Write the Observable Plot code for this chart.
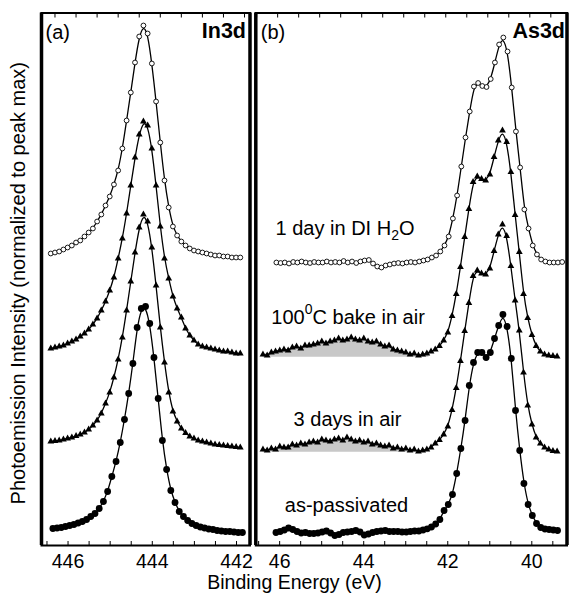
<!DOCTYPE html>
<html><head><meta charset="utf-8">
<script src="https://cdn.jsdelivr.net/npm/d3@7"></script>
<script src="https://cdn.jsdelivr.net/npm/@observablehq/plot@0.6"></script>
<style>
body{margin:0;background:#fff;}
#fig{position:relative;width:570px;height:593px;overflow:hidden;font-family:"Liberation Sans",Arial,Helvetica,sans-serif;background:#fff;}
#fig svg{position:absolute;top:0;}
#xlabel{position:absolute;left:0;width:589px;text-align:center;top:573px;height:19px;font-size:19.5px;line-height:19px;color:#000;}
</style></head><body>
<div id="fig"><div id="xlabel">Binding Energy (eV)</div></div>
<script>
// ---------- data (binding energy grids, 0.1 eV steps) ----------
const grid = (start, n) => d3.range(n).map(i => Math.round((start - 0.1 * i) * 100) / 100);

const inE_h2o = grid(446.6, 46), inE_bake = grid(446.6, 46), inE_air = grid(446.6, 46), inE_pass = grid(446.55, 46);
const asE_h2o = grid(46.03, 69), asE_bake = grid(46.35, 71), asE_air = grid(46.35, 71), asE_pass = grid(46.04, 68);

// In3d intensities (arb. units)
const in_h2o = [4.5,5,5.5,6.5,7.5,8.5,10,11,13,15,17,20.5,24,28.5,33,39,46,57,71,85,100,113,118.5,114.5,99.5,80.5,60,41,27.5,18,13.5,10.5,8.5,7,6,5.5,5,4.5,4,3.5,3.5,3,3,2.5,2.5,2.5];
const in_bake = [5,5.5,6,6.5,7.5,8.5,9.5,11,12.5,14.5,17,20,24,28.5,34,40.5,50,60,72.5,86.5,100.5,112,118.5,116.5,105,86.5,66,50,40,31,25,20.5,15,11.5,9,7,6,5.5,5,4.5,4,3.5,3.5,3,2.5,2.5];
const in_air = [5.5,5.75,6,6.5,7,7.5,8.25,9,10,11.5,13.5,16,19.5,24.5,30,37.5,46.5,57.5,71,85.5,100,112.5,119,115.5,102.5,83.5,62.5,45,30,20.5,15.5,12,9.75,8,7,6,5.5,5,4.5,4,3.75,3.5,3.25,3,2.75,2.5];
const in_pass = [4.5,4.75,5,5.5,6,6.5,7.25,8,9,10.5,12,14.5,18,23,30.5,38,47.5,59,72,87,105,114.5,115.5,107,90,69.5,48.5,34,23.5,17.5,13,10.5,8.5,7,6,5.25,4.75,4.25,4,3.5,3.25,3,3,2.75,2.5,2.5];

// As3d intensities (arb. units)
const as_h2o = [4,3.75,4,3.5,4.25,4,4.5,4,3.75,4.25,4,4,4.5,4,4.25,4,4.75,4,4.5,3.75,4.5,5,5.25,3.5,2,1.5,2.5,3,3.5,3.75,3.5,4,4.25,4,4.5,5,
  5.5,6.5,7.5,9.5,12.5,17,26,37.5,52,66.5,79.5,92,93.75,92.25,91.75,95.75,104,113,116.5,109.5,91.5,69.5,51.5,30.5,21,12.5,8,5.5,4.5,4,4,4,4.25];
const as_bake = [4,3.5,5,5.5,6,6.5,6,7.5,8,7,8.5,8.5,9,9.5,10.5,9.5,10.5,11,12,11,11.5,12.5,11.5,11,12,10.5,10,10.5,9,8,8.5,6.5,6,5.5,5,4,4.5,3.5,4,4.5,5.5,
  6.5,8.25,11,15,23.25,34.25,47.75,62.75,76.75,90.25,93,91.75,91,94,102.75,111,116,110.25,95.25,73.75,55.25,34.25,22.25,13.75,8.25,5.5,4,3.5,3.25,3];
const as_air = [4.5,4,5,4.5,6,5.5,5.5,7,6.5,7.5,7,8,8.5,8,9.5,9,8.5,9.5,10,9,10.5,9.5,8.5,9,8,8.5,7,7.5,6.5,6,6.5,5,5.5,4.5,5,4,4.5,3.5,4,4.5,5.5,
  7.5,9.25,12,16,24.25,35.25,48.75,63.75,77.75,91.25,94,92.5,92,95,103.75,112,117,111.25,96.25,79,64,43,26.5,17,10.5,7.5,5.5,4.5,3.75,3.5];
const as_pass = [3,3.5,4.25,5.25,4.5,3.5,2.75,3,2.5,2.5,2.75,3.25,3.75,2.75,1.5,2,3,3.25,3.5,4,3.25,1.75,2.25,3,3.5,3.75,4,3.5,3.5,3.5,3.25,3.25,3.5,3.75,3.75,4.25,
  4.85,5.75,7.25,9.5,14,17,22,32.5,45,59,76.5,88,93,93,90.5,93,100,106.5,112,106,90,64,44,27.5,17,11.5,7.5,5.5,4.75,4.5,4.25,4];

// oxide components (shaded)
const bakeOxE = [46.35,45.85,45.35,44.85,44.35,43.85,43.35,42.85,42.4];
const bakeOx = [4,6.25,8,9.85,11.25,10.5,7.35,4.35,3.25];
const bakeOxBase = 2.65;
const airOxE = [46.35,45.85,45.35,44.85,44.35,43.85,43.35,42.85,42.5];
const airOx = [4.35,5.9,7.65,8.9,9.35,8.15,5.9,4.35,3.4];
const airOxBase = 3.15;

// vertical stacking offsets (top to bottom: H2O, bake, 3 days air, as-passivated)
const inOffsets = [141.5, 93.5, 46.5, 4];
const asOffsets = [137.5, 91.5, 43.5, 3.5];

const inTicks = [446.5,446,445.5,445,444.5,444,443.5,443,442.5,442];
const asTicks = [46.5,46,45.5,45,44.5,44,43.5,43,42.5,42,41.5,41,40.5,40,39.5];
const labels = ["1 day in DI H_2O", "100^0C bake in air", "3 days in air", "as-passivated"];

// ---------- helpers ----------
const FONT = '"Liberation Sans", Arial, Helvetica, sans-serif';
const rows = (E, I, off) => I.map((v, i) => ({E: E[i], y: v + off}));
const yDomain = [0, 266.25];

function spectrum(E, I, off, kind) {
  const data = rows(E, I, off);
  const m = [Plot.line(data, {x: "E", y: "y", curve: "basis", stroke: "black", strokeWidth: 1.3})];
  if (kind === "open") m.push(Plot.dot(data, {x: "E", y: "y", r: 2.4, fill: "white", stroke: "black", strokeWidth: 0.9}));
  else if (kind === "tri") m.push(Plot.dot(data, {x: "E", y: "y", symbol: "triangle", r: 2.5, fill: "black", stroke: "none"}));
  else m.push(Plot.dot(data, {x: "E", y: "y", r: 3.4, fill: "black", stroke: "none"}));
  return m;
}
const fmt = d => (Number.isInteger(d) && d % 2 === 0 ? String(d) : "");
function axes(ticks, dx) {
  return [
    Plot.axisX({anchor: "bottom", ticks, tickSize: -4, tickPadding: 13, tickFormat: fmt, label: null, dx, fontSize: 19.5}),
    Plot.axisX({anchor: "top", ticks, tickSize: -4, tickFormat: () => "", label: null})
  ];
}

// ---------- panel (a) In3d ----------
const inDom = [446.82, 441.87];
const plotA = Plot.plot({
  width: 252, height: 593, marginLeft: 41, marginRight: 2.5, marginTop: 12.5, marginBottom: 48,
  x: {domain: inDom, label: null}, y: {domain: yDomain, axis: null},
  style: {fontFamily: FONT, fontSize: "19.5px", background: "transparent", overflow: "visible", color: "black"},
  marks: [
    ...spectrum(inE_h2o, in_h2o, inOffsets[0], "open"),
    ...spectrum(inE_bake, in_bake, inOffsets[1], "tri"),
    ...spectrum(inE_air, in_air, inOffsets[2], "tri"),
    ...spectrum(inE_pass, in_pass, inOffsets[3], "fill"),
    ...axes(inTicks, -8),
    Plot.frame({stroke: "black", strokeWidth: 2}),
    Plot.ruleX(inDom, {stroke: "black", strokeWidth: 3.5}),
    Plot.text(["(a)"], {text: d => d, frameAnchor: "top-left", dx: 4, dy: 26, textAnchor: "start", lineAnchor: "bottom", fontSize: 20}),
    Plot.text(["In3d"], {text: d => d, frameAnchor: "top-right", dx: -4, dy: 25, textAnchor: "end", lineAnchor: "bottom", fontSize: 21.5, fontWeight: "bold"}),
    Plot.text(["Photoemission Intensity (normalized to peak max)"], {text: d => d, frameAnchor: "left", dx: -23, dy: 4, rotate: -90, textAnchor: "middle", lineAnchor: "middle", fontSize: 20})
  ]
});

// ---------- panel (b) As3d ----------
const asDom = [46.52, 39.115];
const plotB = Plot.plot({
  width: 318, height: 593, marginLeft: 3.3, marginRight: 3.5, marginTop: 12.5, marginBottom: 48,
  x: {domain: asDom, label: null}, y: {domain: yDomain, axis: null},
  style: {fontFamily: FONT, fontSize: "19.5px", background: "transparent", overflow: "visible", color: "black"},
  marks: [
    Plot.areaY(bakeOx.map((v, i) => ({E: bakeOxE[i], y1: bakeOxBase + asOffsets[1], y2: v + asOffsets[1]})), {x: "E", y1: "y1", y2: "y2", fill: "#c8c8c8", curve: "natural"}),
    Plot.areaY(airOx.map((v, i) => ({E: airOxE[i], y1: airOxBase + asOffsets[2], y2: v + asOffsets[2]})), {x: "E", y1: "y1", y2: "y2", fill: "#c8c8c8", curve: "natural"}),
    ...spectrum(asE_h2o, as_h2o, asOffsets[0], "open"),
    ...spectrum(asE_bake, as_bake, asOffsets[1], "tri"),
    ...spectrum(asE_air, as_air, asOffsets[2], "tri"),
    ...spectrum(asE_pass, as_pass, asOffsets[3], "fill"),
    ...axes(asTicks, 2),
    Plot.frame({stroke: "black", strokeWidth: 2}),
    Plot.ruleX(asDom, {stroke: "black", strokeWidth: 3.5}),
    Plot.text(["(b)"], {text: d => d, frameAnchor: "top-left", dx: 5, dy: 26, textAnchor: "start", lineAnchor: "bottom", fontSize: 20}),
    Plot.text(["As3d"], {text: d => d, frameAnchor: "top-right", dx: -2, dy: 25, textAnchor: "end", lineAnchor: "bottom", fontSize: 21.5, fontWeight: "bold"}),
    Plot.text([labels[0]], {text: d => d, x: () => 46.05, y: () => 155.5, textAnchor: "start", lineAnchor: "bottom", fontSize: 20}),
    Plot.text([labels[1]], {text: d => d, x: () => 46.15, y: () => 111, textAnchor: "start", lineAnchor: "bottom", fontSize: 20}),
    Plot.text([labels[2]], {text: d => d, x: () => 45.62, y: () => 60, textAnchor: "start", lineAnchor: "bottom", fontSize: 20}),
    Plot.text([labels[3]], {text: d => d, x: () => 45.83, y: () => 16.75, textAnchor: "start", lineAnchor: "bottom", fontSize: 20})
  ]
});

// sub/superscripts as real tspans
function richText(svg) {
  d3.select(svg).selectAll("text").each(function () {
    const t = this.textContent;
    const m = t.match(/^(.*?)([_^])(\d)(.*)$/);
    if (!m) return;
    const sel = d3.select(this); sel.text(null);
    const shift = m[2] === "^" ? -10 : 5;
    sel.append("tspan").text(m[1]);
    sel.append("tspan").attr("dy", shift).attr("font-size", 14).text(m[3]);
    sel.append("tspan").attr("dy", -shift).text(m[4]);
  });
}
richText(plotB);

plotA.style.left = "0px";
plotB.style.left = "252px";
const fig = document.getElementById("fig");
fig.appendChild(plotA);
fig.appendChild(plotB);
</script>
</body></html>
